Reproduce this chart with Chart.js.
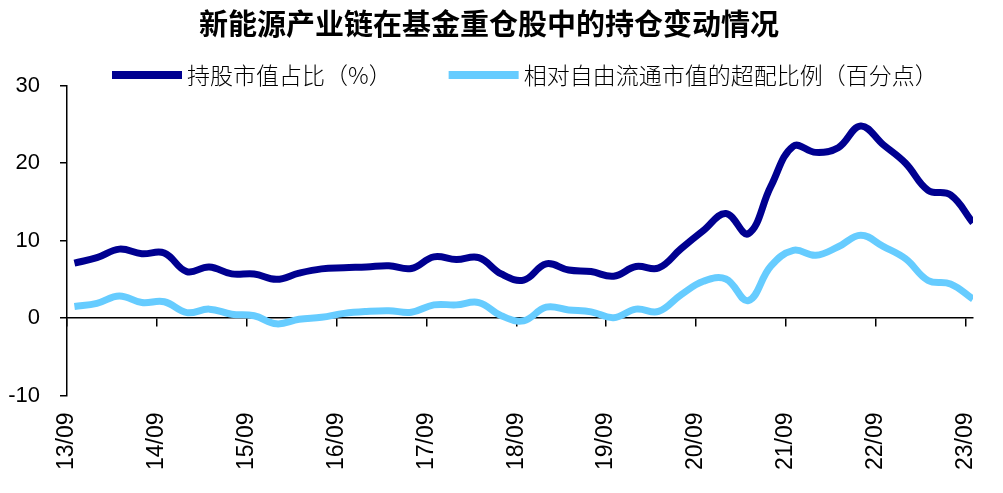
<!DOCTYPE html>
<html>
<head>
<meta charset="utf-8">
<script src="https://cdn.jsdelivr.net/npm/chart.js@4"></script>
<style>
  html, body { margin: 0; padding: 0; background: #fff; }
  #wrap { width: 1003px; height: 493px; }
</style>
</head>
<body>
<div id="wrap"><canvas id="myChart"></canvas></div>
<script>
// quarters 13/09 .. 23/09
const quarters = [
  "13/09","13/12","14/03","14/06","14/09","14/12","15/03","15/06","15/09","15/12",
  "16/03","16/06","16/09","16/12","17/03","17/06","17/09","17/12","18/03","18/06",
  "18/09","18/12","19/03","19/06","19/09","19/12","20/03","20/06","20/09","20/12",
  "21/03","21/06","21/09","21/12","22/03","22/06","22/09","22/12","23/03","23/06","23/09"
];
const yearLabels = ["13/09","14/09","15/09","16/09","17/09","18/09","19/09","20/09","21/09","22/09","23/09"];

let holdShare = [
  7.1, 7.8, 8.9, 8.3, 8.4, 6.0, 6.6, 5.7, 5.7, 5.0,
  5.8, 6.35, 6.5, 6.6, 6.75, 6.4, 7.9, 7.55, 7.8, 5.7,
  4.9, 7.0, 6.2, 6.0, 5.4, 6.65, 6.45, 8.95, 11.3, 13.5,
  10.9, 17.0, 22.2, 21.4, 22.0, 24.8, 22.4, 20.0, 16.5, 15.9, 12.3
];
let overWeight = [
  1.5, 1.9, 2.85, 2.0, 2.1, 0.7, 1.15, 0.5, 0.3, -0.75,
  -0.15, 0.1, 0.6, 0.85, 0.95, 0.75, 1.7, 1.7, 2.0, 0.3,
  -0.35, 1.4, 1.05, 0.8, 0.05, 1.15, 0.85, 3.0, 4.75, 5.05,
  2.25, 6.7, 8.75, 8.1, 9.2, 10.7, 9.25, 7.65, 4.85, 4.4, 2.45
];

// points sit at quarter end, year ticks at start of the month
const tickShift = -0.33;
const yearTicks = yearLabels.map((l, k) => k * 4 + tickShift);

function setYearTicks(scale) {
  scale.ticks = yearTicks.map(v => ({ value: v }));
}
function noSidePadding(scale) {
  scale.paddingLeft = 0;
  scale.paddingRight = 0;
}

const toPoints = arr => arr.map((v, i) => ({ x: i, y: v }));

// legend drawn as a row of line samples
const lineLegend = {
  id: 'lineLegend',
  afterDraw(chart) {
    const ctx = chart.ctx;
    ctx.save();
    ctx.font = '300 23px "Noto Sans CJK SC"';
    ctx.textBaseline = 'middle';
    let x = 112;
    const y = 75;
    chart.data.datasets.forEach(ds => {
      ctx.fillStyle = ds.borderColor;
      ctx.fillRect(x, y - 4, 70, 8);
      x += 75;
      ctx.fillStyle = '#000';
      ctx.fillText(ds.label, x, y);
      x += ctx.measureText(ds.label).width + 57;
    });
    ctx.restore();
  }
};

const ctx = document.getElementById('myChart');

const chart = new Chart(ctx, {
  type: 'line',
  data: {
    datasets: [
      {
        label: '持股市值占比（%）',
        data: toPoints(holdShare),
        borderColor: '#000090',
        backgroundColor: '#000090',
        borderWidth: 7,
        pointRadius: 0,
        tension: 0.4,
        borderJoinStyle: 'round'
      },
      {
        label: '相对自由流通市值的超配比例（百分点）',
        data: toPoints(overWeight),
        borderColor: '#66CCFF',
        backgroundColor: '#66CCFF',
        borderWidth: 7,
        pointRadius: 0,
        tension: 0.4,
        borderJoinStyle: 'round'
      }
    ]
  },
  options: {
    responsive: true,
    maintainAspectRatio: false,
    animation: false,
    layout: { padding: { left: 5, right: 30, top: 0, bottom: 14 } },
    plugins: {
      legend: { display: false },
      tooltip: { enabled: false },
      title: {
        display: true,
        text: '新能源产业链在基金重仓股中的持仓变动情况',
        color: '#000',
        font: { family: '"Noto Sans CJK SC"', size: 29, weight: 'bold', lineHeight: 1.2 },
        padding: { top: 7, bottom: 44 }
      }
    },
    scales: {
      x: {
        type: 'linear',
        min: tickShift,
        max: 40,
        afterBuildTicks: setYearTicks,
        afterFit: noSidePadding,
        border: { display: false },
        grid: { display: false },
        ticks: {
          autoSkip: false,
          minRotation: 90,
          maxRotation: 90,
          padding: 9,
          color: '#000',
          font: { family: '"Liberation Sans", Arial', size: 23 },
          callback: (v, i) => yearLabels[i]
        }
      },
      x0: {
        type: 'linear',
        position: { y: 0 },
        min: tickShift,
        max: 40,
        afterBuildTicks: setYearTicks,
        afterFit: noSidePadding,
        border: { display: true, color: '#000', width: 1.5 },
        grid: { drawOnChartArea: false, drawTicks: true, tickLength: 8, color: '#000', lineWidth: 1.5 },
        ticks: { display: false }
      },
      y: {
        min: -10,
        max: 30,
        afterFit: scale => { scale.width = 62; },
        border: { display: true, color: '#000', width: 1.5 },
        grid: { drawOnChartArea: false, drawTicks: true, tickLength: 7, color: '#000', lineWidth: 1.5 },
        ticks: {
          stepSize: 10,
          padding: 20,
          color: '#000',
          font: { family: '"Liberation Sans", Arial', size: 22 }
        }
      }
    }
  },
  plugins: [lineLegend]
});
</script>
</body>
</html>
